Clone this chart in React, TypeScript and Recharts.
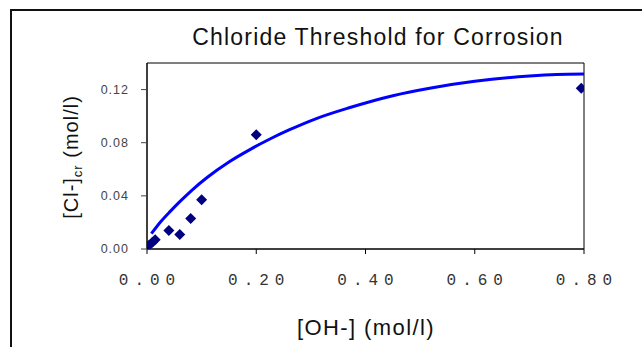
import React from "react";
import {
  ComposedChart,
  XAxis,
  YAxis,
  Line,
  Scatter,
  ReferenceArea,
  Label,
} from "recharts";

// Measured points
const measuredOH = [0.004, 0.01, 0.015, 0.04, 0.06, 0.08, 0.1, 0.2, 0.795];
const measuredCl = [0.003, 0.005, 0.007, 0.014, 0.011, 0.023, 0.037, 0.086, 0.121];

// Fitted curve
const fitOH = [0.008, 0.025, 0.043, 0.061, 0.082, 0.11, 0.15, 0.19, 0.225, 0.26, 0.31, 0.37, 0.45, 0.52, 0.6, 0.7, 0.75, 0.8];
const fitCl = [0.0115, 0.0205, 0.0285, 0.036, 0.0442, 0.0538, 0.0655, 0.0752, 0.0828, 0.0896, 0.0982, 0.1063, 0.1154, 0.1212, 0.1262, 0.1302, 0.1314, 0.1318];

const xTicks = [0, 0.2, 0.4, 0.6, 0.8];
const yTicks = [0, 0.04, 0.08, 0.12];

const titleText = "Chloride Threshold for Corrosion";
const xTitle = "[OH-] (mol/l)";

const points = measuredOH.map((x, i) => ({ x, y: measuredCl[i] }));
const curve = fitOH.map((x, i) => ({ x, y: fitCl[i] }));

const Diamond = (props: any) => {
  const { cx, cy } = props;
  if (cx == null || cy == null) return null;
  const r = 5.5;
  return (
    <polygon
      points={`${cx},${cy - r} ${cx + r},${cy} ${cx},${cy + r} ${cx - r},${cy}`}
      fill="#000080"
    />
  );
};

const XTick = (props: any) => {
  const { x, y, payload } = props;
  return (
    <text
      x={x + 3}
      y={y}
      dy="0.71em"
      textAnchor="middle"
      fontFamily="'Liberation Mono', 'Courier New', monospace"
      fontSize={16}
      letterSpacing={6}
      fill="#333"
    >
      {Number(payload.value).toFixed(2)}
    </text>
  );
};

const YTick = (props: any) => {
  const { x, y, payload } = props;
  return (
    <text
      x={x + 1}
      y={y}
      dy="0.355em"
      textAnchor="end"
      fontFamily="'Liberation Sans', Arial, sans-serif"
      fontSize={12.5}
      letterSpacing={1}
      fill="#444"
    >
      {Number(payload.value).toFixed(2)}
    </text>
  );
};

export default function App() {
  return (
    <div style={{ position: "relative", width: 642, height: 347, overflow: "hidden", background: "#fff" }}>
      <style>{"body{margin:0}"}</style>
      <div
        style={{
          position: "absolute",
          left: 10,
          top: 9,
          width: 700,
          height: 400,
          borderLeft: "2px solid #111",
          borderTop: "2px solid #111",
          boxSizing: "border-box",
        }}
      />
      <div style={{ position: "absolute", left: 0, top: 0 }}>
        <ComposedChart
          width={642}
          height={347}
          margin={{ top: 63, right: 58, bottom: 58, left: 87 }}
        >
          <XAxis
            type="number"
            dataKey="x"
            domain={[0, 0.8]}
            ticks={xTicks}
            allowDataOverflow
            height={40}
            tickSize={5}
            tickMargin={20}
            axisLine={{ stroke: "#000" }}
            tickLine={{ stroke: "#000" }}
            tick={<XTick />}
          >
            <Label
              content={() => (
                <text
                  x={366}
                  y={335}
                  textAnchor="middle"
                  fontFamily="'Liberation Sans', Arial, sans-serif"
                  fontSize={22}
                  letterSpacing={1.4}
                  fill="#111"
                >
                  {xTitle}
                </text>
              )}
            />
          </XAxis>
          <YAxis
            type="number"
            dataKey="y"
            domain={[0, 0.14]}
            ticks={yTicks}
            allowDataOverflow
            width={60}
            tickSize={6}
            tickMargin={13}
            axisLine={{ stroke: "#000" }}
            tickLine={{ stroke: "#444" }}
            tick={<YTick />}
          >
            <Label
              content={() => (
                <text
                  x={78}
                  y={157}
                  transform="rotate(-90 78 157)"
                  textAnchor="middle"
                  fontFamily="'Liberation Sans', Arial, sans-serif"
                  fontSize={20}
                  letterSpacing={1}
                  fill="#111"
                >
                  <tspan>[Cl-]</tspan>
                  <tspan fontSize={13} dy={4}>cr</tspan>
                  <tspan dy={-4}> (mol/l)</tspan>
                </text>
              )}
            />
          </YAxis>
          <ReferenceArea
            x1={0}
            x2={0.8}
            y1={0}
            y2={0.14}
            fill="none"
            stroke="#000"
            strokeWidth={1}
            ifOverflow="visible"
          />
          <Line
            data={curve}
            dataKey="y"
            type="monotone"
            stroke="#0000FF"
            strokeWidth={3}
            dot={false}
            activeDot={false}
            isAnimationActive={false}
          />
          <Scatter
            data={points}
            dataKey="y"
            fill="#000080"
            shape={<Diamond />}
            isAnimationActive={false}
          />
        </ComposedChart>
      </div>
      <svg
        width={642}
        height={347}
        style={{ position: "absolute", left: 0, top: 0, pointerEvents: "none" }}
      >
        <text
          x={378}
          y={45}
          textAnchor="middle"
          fontFamily="'Liberation Sans', Arial, sans-serif"
          fontSize={23}
          letterSpacing={1.2}
          fill="#111"
        >
          {titleText}
        </text>
      </svg>
    </div>
  );
}
